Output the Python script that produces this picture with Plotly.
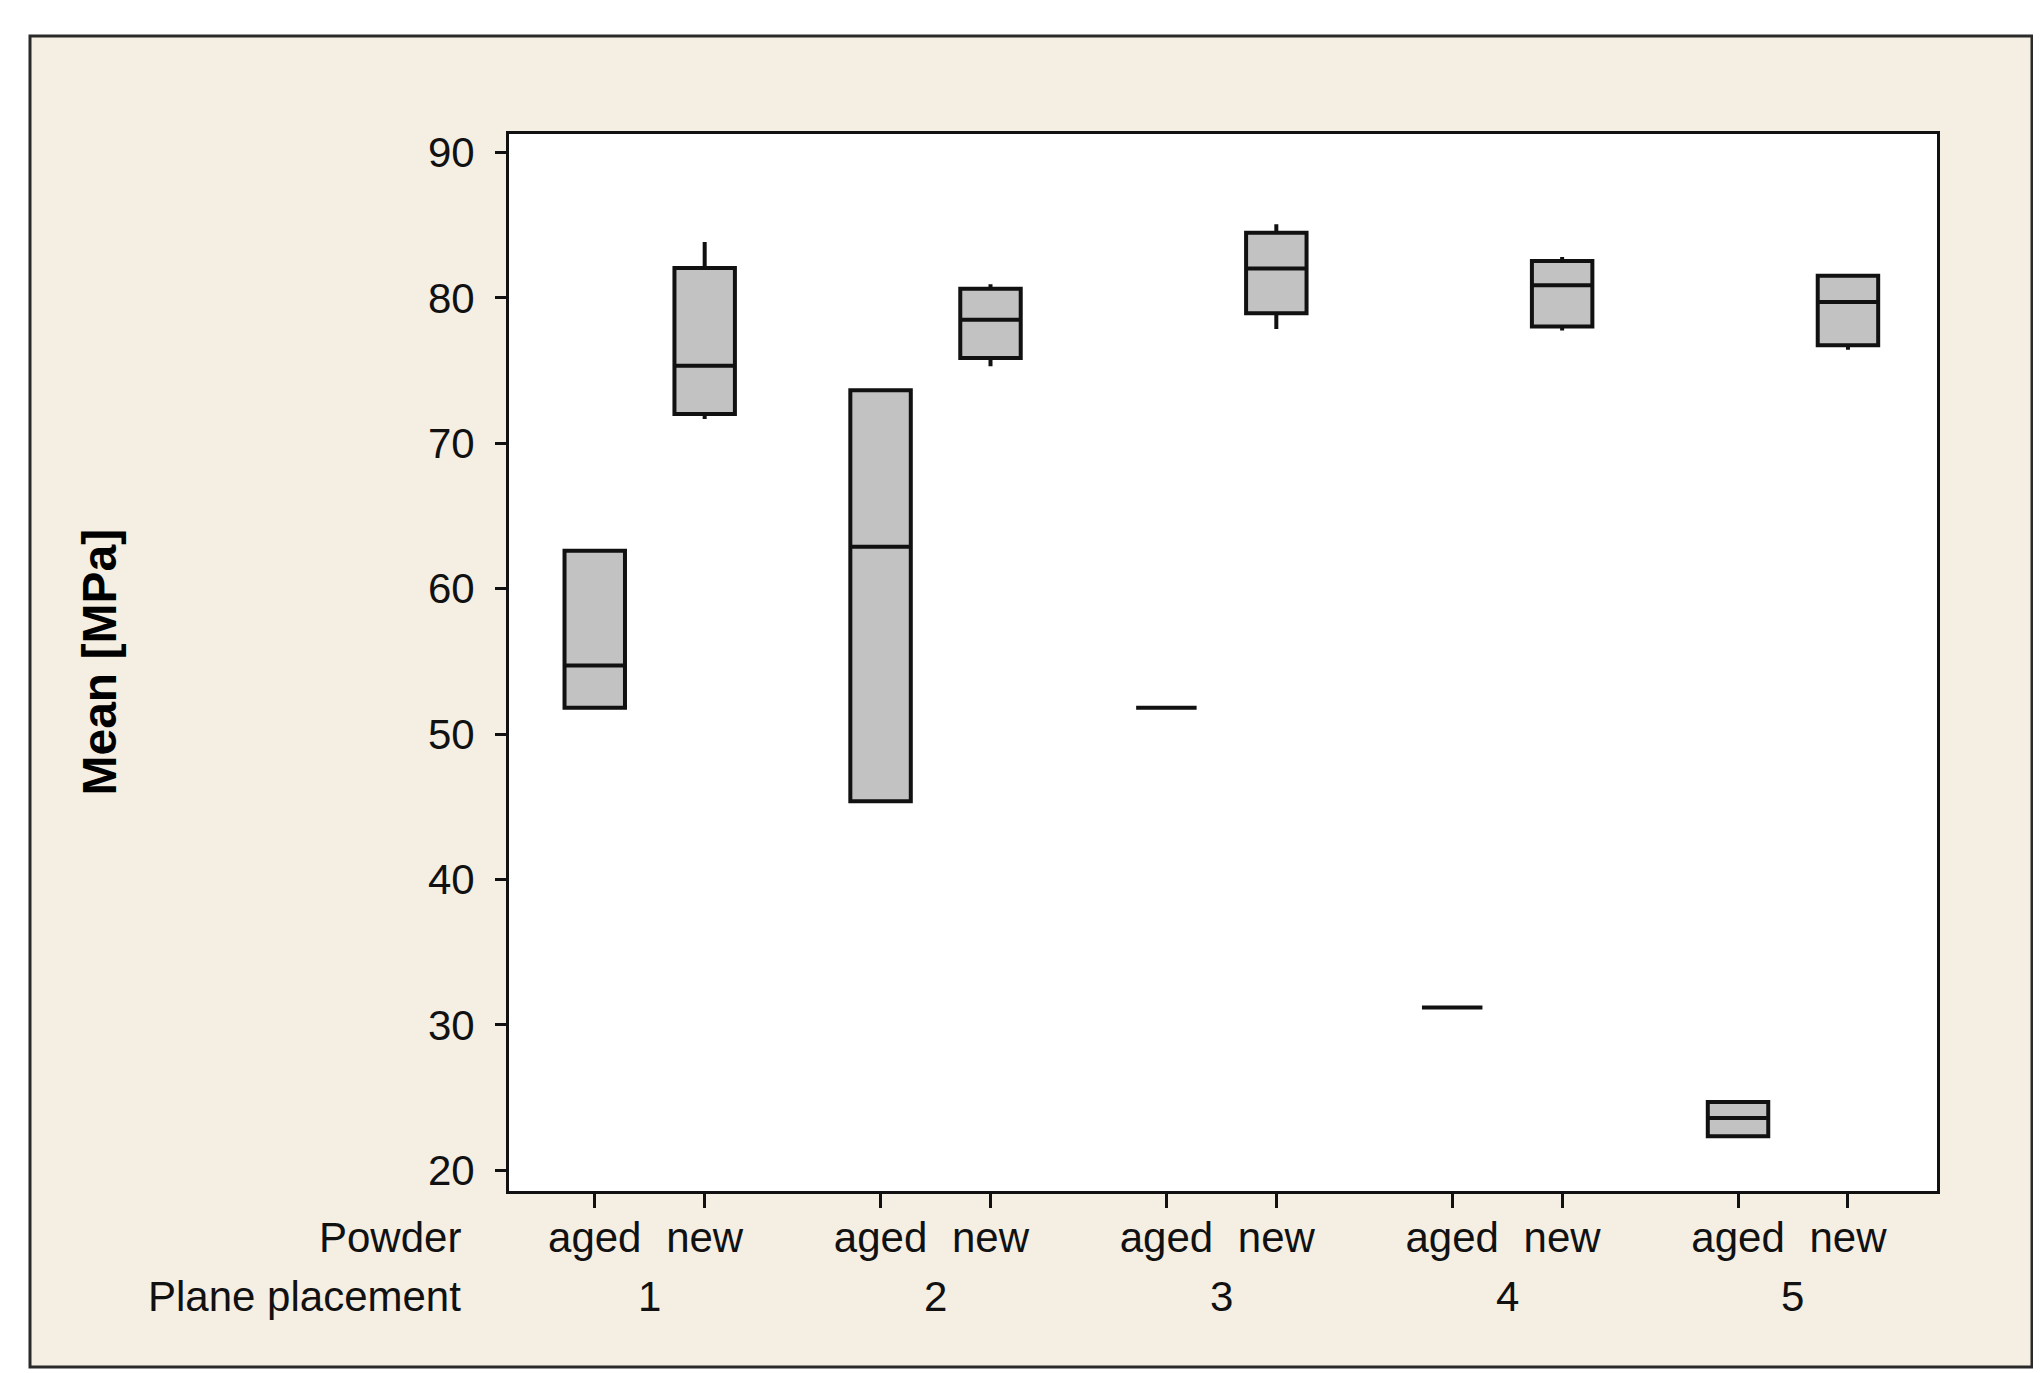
import plotly.graph_objects as go

# ---------------- data ----------------
groups = ["1", "2", "3", "4", "5"]          # Plane placement
powders = ["aged", "new"]                   # Powder

aged_lower = [51.82, 45.38, 51.82, 31.20, 22.35]
aged_q1 = [51.82, 45.38, 51.82, 31.20, 22.35]
aged_median = [54.72, 62.88, 51.82, 31.20, 23.60]
aged_q3 = [62.61, 73.64, 51.82, 31.20, 24.70]
aged_upper = [62.61, 73.64, 51.82, 31.20, 24.70]

new_lower = [71.67, 75.30, 77.86, 77.76, 76.44]
new_q1 = [72.02, 75.86, 78.94, 78.03, 76.75]
new_median = [75.34, 78.50, 82.02, 80.87, 79.71]
new_q3 = [82.05, 80.62, 84.48, 82.53, 81.53]
new_upper = [83.84, 80.94, 85.06, 82.81, 81.53]

y_ticks = [20, 30, 40, 50, 60, 70, 80, 90]

# ---------------- layout constants ----------------
W, H = 2041, 1373
PL, PR, PT, PB = 501, 1929, 126, 1183      # plot area in pixels
GAP = 2.60                                  # distance between groups (in box units)
BOX_W = 0.55
FONT = "Liberation Sans"
FS = 42
INK = "#111111"
BEIGE = "#f4eee3"
FILL = "#c2c2c2"

def pos(g, p):
    return g * GAP + p

stats = {
    "aged": (aged_lower, aged_q1, aged_median, aged_q3, aged_upper),
    "new": (new_lower, new_q1, new_median, new_q3, new_upper),
}

fig = go.Figure()
for p, pw in enumerate(powders):
    lo, q1, md, q3, up = stats[pw]
    fig.add_trace(go.Box(
        x=[pos(g, p) for g in range(len(groups))],
        lowerfence=lo, q1=q1, median=md, q3=q3, upperfence=up,
        width=BOX_W, whiskerwidth=0,
        fillcolor=FILL, line=dict(color=INK, width=4),
        boxpoints=False, showlegend=False, hoverinfo="skip",
    ))

xmin = pos(0, 0) - 0.78
xmax = pos(len(groups) - 1, 1) + 0.81

tickvals = [pos(g, p) for g in range(len(groups)) for p in range(len(powders))]
ticktext = [pw for g in range(len(groups)) for pw in powders]

pw_w = PR - PL
ph_h = PB - PT
def px_x(x):
    return (x - PL) / pw_w
def px_y(y):
    return (PB - y) / ph_h

shapes = [
    # outer beige frame
    dict(type="rect", xref="paper", yref="paper", layer="below",
         x0=px_x(22), x1=px_x(2024), y0=px_y(1359), y1=px_y(28),
         fillcolor=BEIGE, line=dict(color="#2a2a2a", width=3)),
    # white plotting area
    dict(type="rect", xref="paper", yref="paper", layer="below",
         x0=0, x1=1, y0=0, y1=1, fillcolor="white",
         line=dict(color=INK, width=0)),
]

annotations = [
    dict(text="Mean [MPa]", xref="paper", yref="paper", x=px_x(91), y=0.5,
         textangle=-90, showarrow=False, xanchor="center", yanchor="middle",
         font=dict(family=FONT, size=48, color="black", weight="bold")),
    dict(text="Powder", xref="paper", yref="paper", x=px_x(455), y=px_y(1229),
         showarrow=False, xanchor="right", yanchor="middle",
         font=dict(family=FONT, size=FS, color=INK)),
    dict(text="Plane placement", xref="paper", yref="paper", x=px_x(455), y=px_y(1288),
         showarrow=False, xanchor="right", yanchor="middle",
         font=dict(family=FONT, size=FS, color=INK)),
]
for g, name in enumerate(groups):
    annotations.append(dict(
        text=name, xref="x", yref="paper", x=(pos(g, 0) + pos(g, 1)) / 2,
        y=px_y(1288), showarrow=False, xanchor="center", yanchor="middle",
        font=dict(family=FONT, size=FS, color=INK)))

fig.update_layout(
    width=W, height=H,
    margin=dict(l=PL, r=W - PR, t=PT, b=H - PB, pad=0),
    paper_bgcolor="white", plot_bgcolor="rgba(0,0,0,0)",
    shapes=shapes, annotations=annotations,
    font=dict(family=FONT, size=FS, color=INK),
    xaxis=dict(range=[xmin, xmax], tickvals=tickvals, ticktext=ticktext,
               showgrid=False, zeroline=False, showline=True, mirror=True,
               linecolor=INK, linewidth=3, ticks="outside", ticklen=14,
               tickwidth=3, tickcolor=INK, ticklabelstandoff=-6,
               tickfont=dict(family=FONT, size=FS, color=INK)),
    yaxis=dict(range=[18.58, 91.27], tickvals=y_ticks,
               showgrid=False, zeroline=False, showline=True, mirror=True,
               linecolor=INK, linewidth=3, ticks="outside", ticklen=11,
               tickwidth=3, tickcolor=INK, ticklabelstandoff=12,
               tickfont=dict(family=FONT, size=FS, color=INK)),
)

fig.write_html("out.html")
